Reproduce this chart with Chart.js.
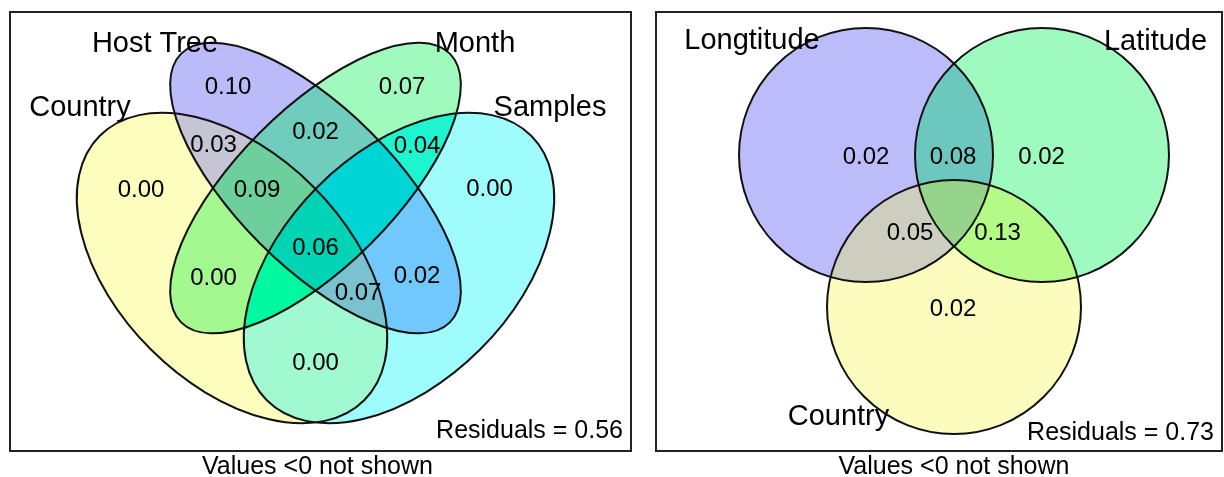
<!DOCTYPE html>
<html><head><meta charset="utf-8">
<script src="https://cdn.jsdelivr.net/npm/chart.js@4.4.1/dist/chart.umd.min.js"></script>
<style>
html,body{margin:0;padding:0;background:#fff;width:1224px;height:477px;overflow:hidden}
#left{position:absolute;left:0;top:0;width:640px;height:477px}
#right{position:absolute;left:640px;top:0;width:584px;height:477px}
</style></head><body>
<div id="left"><canvas id="c1" width="640" height="477"></canvas></div>
<div id="right"><canvas id="c2" width="584" height="477"></canvas></div>
<script>
// ================= DATA =================
const leftSetNames = ['Country', 'Host Tree', 'Month', 'Samples'];
// region membership (indices into leftSetNames)
const leftRegions = [[0],[1],[2],[3],[0,1],[1,2],[2,3],[0,2],[0,3],[1,3],[0,1,2],[0,1,3],[0,2,3],[1,2,3],[0,1,2,3]];
// adjusted R2 for each region (null = value < 0, not shown)
const leftValues  = [0.00, 0.10, 0.07, 0.00, 0.03, 0.02, 0.04, 0.00, 0.00, 0.02, 0.09, 0.07, null, null, 0.06];
const leftResidual = 0.56;

const rightSetNames = ['Longtitude', 'Latitude', 'Country'];
const rightRegions = [[0],[1],[2],[0,1],[0,2],[1,2],[0,1,2]];
const rightValues  = [0.02, 0.02, 0.02, 0.08, 0.05, 0.13, null];
const rightResidual = 0.73;

const footNote = 'Values <0 not shown';

// ================= LAYOUT (positions / sizes, page px units) =================
const leftShapes = [
  {cx: 232,   cy: 268, a: 187, b: 115,  rot: 45},
  {cx: 315.5, cy: 188, a: 190, b: 78.5, rot: 45},
  {cx: 315.5, cy: 188, a: 190, b: 78.5, rot: -45},
  {cx: 399,   cy: 268, a: 187, b: 115,  rot: -45}
];
const leftValuePos = [[141,188],[228,85],[402,85],[489.5,187],[213.5,143],[315.5,130],[417,144],
  [213.5,276],[315.5,361.5],[417,274],[257,188],[358,291],[273,291],[374,188],[315.5,246]];
const leftNamePos = [[80,116],[155,52],[475,52],[550,116]];
const leftFrame = {x0: 10, x1: 631, y0: 12, y1: 451};
const leftResidualPos = [623, 438];
const leftFootPos = [317.5, 474];

const rightShapes = [
  {cx: 866,  cy: 155, a: 127, b: 127, rot: 0},
  {cx: 1042, cy: 155, a: 127, b: 127, rot: 0},
  {cx: 954,  cy: 307, a: 127, b: 127, rot: 0}
];
const rightValuePos = [[866,155],[1041.5,155],[953,307],[953,155],[910,231],[997.5,231],[954,212]];
const rightNamePos = [[752,49],[1155.5,50],[838.5,425]];
const rightFrame = {x0: 656, x1: 1222, y0: 12, y1: 451};
const rightResidualPos = [1214, 440];
const rightFootPos = [954, 474];

// ================= STYLES =================
const leftRegionColors = ['#fdfdbe','#bbbbf9','#a0f9bd','#9efcfc','#c6c5d6','#70ccbc','#1ef5d0',
  '#a4f890','#a0f9d0','#70c8fc','#6ccf9c','#7ac2d0','#00f8a0','#00d4d4','#00d4b4'];
const rightRegionColors = ['#bcbcfa','#9efabe','#fcfcbe','#6cc8be','#cecec0','#b4fa87','#96d48c'];
const FONT = '"Liberation Sans", Arial, Helvetica, sans-serif';

// ================= DRAWING =================
function ellipsePath(ctx, chart, e) {
  const xs = chart.scales.x, ys = chart.scales.y;
  const cx = xs.getPixelForValue(e.cx), cy = ys.getPixelForValue(e.cy);
  const rx = Math.abs(xs.getPixelForValue(e.cx + e.a) - cx);
  const ry = Math.abs(xs.getPixelForValue(e.cx + e.b) - cx);
  ctx.ellipse(cx, cy, rx, ry, e.rot * Math.PI / 180, 0, 2 * Math.PI);
}

function vennPlugin(cfg) {
  return {
    id: 'venn',
    beforeDatasetsDraw(chart) {
      const ctx = chart.ctx, W = chart.width, H = chart.height;
      const n = cfg.shapes.length;
      cfg.regions.forEach((mem, ri) => {
        ctx.save();
        for (let i = 0; i < n; i++) {
          ctx.beginPath();
          if (mem.includes(i)) {
            ellipsePath(ctx, chart, cfg.shapes[i]);
            ctx.clip();
          } else {
            ctx.rect(-10, -10, W + 20, H + 20);
            ellipsePath(ctx, chart, cfg.shapes[i]);
            ctx.clip('evenodd');
          }
        }
        ctx.fillStyle = cfg.colors[ri];
        ctx.fillRect(0, 0, W, H);
        ctx.restore();
      });
      ctx.save();
      ctx.strokeStyle = '#111';
      ctx.lineWidth = 2;
      cfg.shapes.forEach(e => { ctx.beginPath(); ellipsePath(ctx, chart, e); ctx.stroke(); });
      // frame
      const xs = chart.scales.x, ys = chart.scales.y, f = cfg.frame;
      const x0 = xs.getPixelForValue(f.x0), x1 = xs.getPixelForValue(f.x1);
      const y0 = ys.getPixelForValue(f.y0), y1 = ys.getPixelForValue(f.y1);
      ctx.strokeStyle = '#222';
      ctx.lineWidth = 2;
      ctx.strokeRect(x0, y0, x1 - x0, y1 - y0);
      ctx.restore();
    },
    afterDatasetsDraw(chart) {
      const ctx = chart.ctx, xs = chart.scales.x, ys = chart.scales.y;
      ctx.save();
      ctx.fillStyle = '#000';
      ctx.textBaseline = 'alphabetic';
      // region values (anchored at the dataset points)
      const meta = chart.getDatasetMeta(0);
      ctx.font = '24px ' + FONT;
      ctx.textAlign = 'center';
      cfg.values.forEach((v, i) => {
        if (v === null || v === undefined) return;
        const p = meta.data[i];
        ctx.fillText(v.toFixed(2), p.x, p.y + 8.5);
      });
      // set names
      ctx.font = '29px ' + FONT;
      cfg.names.forEach((name, i) => {
        const [x, y] = cfg.namePos[i];
        ctx.fillText(name, xs.getPixelForValue(x), ys.getPixelForValue(y));
      });
      // residuals
      ctx.font = '25px ' + FONT;
      ctx.textAlign = 'right';
      ctx.fillText('Residuals = ' + cfg.residual.toFixed(2),
        xs.getPixelForValue(cfg.residualPos[0]), ys.getPixelForValue(cfg.residualPos[1]));
      ctx.textAlign = 'center';
      ctx.fillText(footNote, xs.getPixelForValue(cfg.footPos[0]), ys.getPixelForValue(cfg.footPos[1]));
      ctx.restore();
    }
  };
}

function makeChart(canvasId, cfg) {
  const canvas = document.getElementById(canvasId);
  const offX = cfg.offsetX;
  const f = cfg.frame;
  return new Chart(canvas, {
    type: 'scatter',
    data: {
      datasets: [{
        data: cfg.valuePos.map(([x, y]) => ({x, y})),
        pointRadius: 0,
        pointHoverRadius: 0,
        showLine: false
      }]
    },
    options: {
      responsive: false,
      animation: false,
      events: [],
      devicePixelRatio: 1,
      layout: {padding: {left: f.x0 - offX, right: canvas.width - (f.x1 - offX), top: f.y0, bottom: canvas.height - f.y1}},
      plugins: {legend: {display: false}, tooltip: {enabled: false}, title: {display: false}},
      scales: {
        x: {type: 'linear', display: false, min: f.x0, max: f.x1},
        y: {type: 'linear', display: false, min: f.y0, max: f.y1, reverse: true}
      }
    },
    plugins: [vennPlugin(cfg)]
  });
}

makeChart('c1', {
  offsetX: 0, shapes: leftShapes, regions: leftRegions, values: leftValues, colors: leftRegionColors,
  valuePos: leftValuePos, names: leftSetNames, namePos: leftNamePos, frame: leftFrame,
  residual: leftResidual, residualPos: leftResidualPos, footPos: leftFootPos
});
makeChart('c2', {
  offsetX: 640, shapes: rightShapes, regions: rightRegions, values: rightValues, colors: rightRegionColors,
  valuePos: rightValuePos, names: rightSetNames, namePos: rightNamePos, frame: rightFrame,
  residual: rightResidual, residualPos: rightResidualPos, footPos: rightFootPos
});
</script>
</body></html>
